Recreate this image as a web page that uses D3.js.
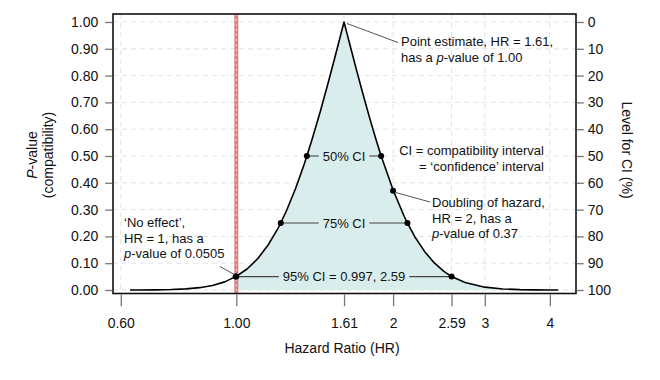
<!DOCTYPE html>
<html><head><meta charset="utf-8">
<script src="https://cdn.jsdelivr.net/npm/d3@7"></script>
<style>
body{margin:0;background:#fff}
text{font-family:"Liberation Sans",Arial,Helvetica,sans-serif;fill:#111}
</style>
</head><body>
<svg id="c" width="660" height="380"></svg>
<script>
// ---- data ----
const hrValues = [0.625,0.65,0.70,0.75,0.80,0.85,0.90,0.95,0.997,1.00,1.05,1.10,1.15,1.20,1.217,1.25,1.30,1.35,1.366,1.40,1.45,1.50,1.55,1.58,1.61,1.63,1.65,1.70,1.75,1.80,1.85,1.897,1.90,2.00,2.10,2.131,2.20,2.30,2.40,2.50,2.59,2.75,3.00,3.25,3.50,3.75,4.00,4.15];
const pValues  = [0.0001,0.0002,0.0006,0.0017,0.0041,0.0087,0.0169,0.0303,0.0500,0.0505,0.0792,0.1177,0.1670,0.2274,0.2500,0.2986,0.3798,0.4695,0.5000,0.5660,0.6673,0.7714,0.8760,0.9384,1.0000,0.9596,0.9197,0.8232,0.7320,0.6468,0.5682,0.5000,0.4964,0.3730,0.2752,0.2500,0.1997,0.1430,0.1011,0.0707,0.0500,0.0279,0.0106,0.0039,0.0014,0.0005,0.0002,0.0001];

const ciLabels = ["50% CI","75% CI","95% CI = 0.997, 2.59"];
const ciLower  = [1.366,1.217,0.997];
const ciUpper  = [1.897,2.131,2.59];
const ciP      = [0.50,0.25,0.05];

const markedHR = [1.00,2.00,1.61];
const markedP  = [0.0505,0.37,1.00];

const xTickValues = [0.60,1.00,1.61,2,2.59,3,4];
const xTickLabels = ["0.60","1.00","1.61","2","2.59","3","4"];
const yTickValues = [0,0.1,0.2,0.3,0.4,0.5,0.6,0.7,0.8,0.9,1.0];
const rightTickValues = [0,10,20,30,40,50,60,70,80,90,100];
const nullHR = 1.00;
const estimateHR = 1.61;

// ---- layout ----
const L = 113, R = 576, T = 14, B = 293.5;
const svg = d3.select("#c");
const x = d3.scaleLog().domain([0.5797, 4.49]).range([L, R]);
const y = d3.scaleLinear().domain([0, 1]).range([290, 22]);
const yR = d3.scaleLinear().domain([0, 100]).range([22, 290]);

const pts = hrValues.map((h, i) => ({h, p: pValues[i]}));

// grid
const grid = svg.append("g").attr("stroke", "#e2e2e2").attr("stroke-width", 1).attr("stroke-dasharray", "5,4");
grid.selectAll("line.h").data(yTickValues).join("line")
  .attr("x1", L).attr("x2", R).attr("y1", d => y(d)).attr("y2", d => y(d));
grid.selectAll("line.v").data(xTickValues).join("line")
  .attr("x1", d => x(d)).attr("x2", d => x(d)).attr("y1", T).attr("y2", B);

// fill under curve from HR ~1
const area = d3.area().x(d => x(d.h)).y0(y(0)).y1(d => y(d.p));
svg.append("path").datum(pts.filter(d => d.h >= 0.997))
  .attr("d", area).attr("fill", "#d9eded");

// null line
svg.append("line").attr("x1", x(nullHR)).attr("x2", x(nullHR)).attr("y1", T).attr("y2", B)
  .attr("stroke", "#d78383").attr("stroke-width", 4);
svg.append("line").attr("x1", x(nullHR)).attr("x2", x(nullHR)).attr("y1", T).attr("y2", B)
  .attr("stroke", "#f3d3d3").attr("stroke-width", 1).attr("stroke-dasharray", "2,3");

// curve
const line = d3.line().x(d => x(d.h)).y(d => y(d.p));
svg.append("path").datum(pts).attr("d", line)
  .attr("fill", "none").attr("stroke", "#000").attr("stroke-width", 1.6).attr("stroke-linejoin", "round");

// frame
svg.append("rect").attr("x", L).attr("y", T).attr("width", R - L).attr("height", B - T)
  .attr("fill", "none").attr("stroke", "#111").attr("stroke-width", 1.6);

// axes
function styleAxis(g) {
  g.select(".domain").remove();
  g.selectAll(".tick line").attr("stroke", "#777").attr("stroke-width", 1.3);
  g.selectAll(".tick text").attr("font-size", 14).attr("fill", "#111")
   .attr("font-family", '"Liberation Sans",Arial,sans-serif');
}
svg.append("g").attr("transform", `translate(${L - 0.8},0)`)
  .call(d3.axisLeft(y).tickValues(yTickValues).tickFormat(d3.format(".2f")).tickSize(7).tickPadding(7))
  .call(styleAxis);
svg.append("g").attr("transform", `translate(${R + 0.8},0)`)
  .call(d3.axisRight(yR).tickValues(rightTickValues).tickFormat(d3.format("d")).tickSize(7).tickPadding(4))
  .call(styleAxis);
svg.append("g").attr("transform", `translate(0,${B + 0.8})`)
  .call(d3.axisBottom(x).tickValues(xTickValues).tickFormat((d, i) => xTickLabels[i]).tickSize(12).tickPadding(12))
  .call(styleAxis);

// axis titles
svg.append("text").attr("x", x(estimateHR) - 2).attr("y", 353).attr("text-anchor", "middle")
  .attr("font-size", 14).text("Hazard Ratio (HR)");
const lt = svg.append("text").attr("transform", "translate(37,155) rotate(-90)")
  .attr("text-anchor", "middle").attr("font-size", 14);
lt.append("tspan").attr("font-style", "italic").text("P");
lt.append("tspan").text("-value");
svg.append("text").attr("transform", "translate(53,155) rotate(-90)")
  .attr("text-anchor", "middle").attr("font-size", 14).text("(compatibility)");
svg.append("text").attr("transform", "translate(622,150) rotate(90)")
  .attr("text-anchor", "middle").attr("font-size", 14).text("Level for CI (%)");

// CI segments with labels
const cx = x(estimateHR);
ciLabels.forEach((lab, i) => {
  const yy = y(ciP[i]);
  const t = svg.append("text").attr("x", cx).attr("y", yy).attr("dy", "0.35em")
    .attr("text-anchor", "middle").attr("font-size", 13).text(lab);
  const w = t.node().getComputedTextLength();
  const g = svg.append("g").attr("stroke", "#444").attr("stroke-width", 1.1);
  g.append("line").attr("x1", x(ciLower[i])).attr("x2", cx - w / 2 - 4).attr("y1", yy).attr("y2", yy);
  g.append("line").attr("x1", cx + w / 2 + 4).attr("x2", x(ciUpper[i])).attr("y1", yy).attr("y2", yy);
  svg.append("circle").attr("cx", x(ciLower[i])).attr("cy", yy).attr("r", 3).attr("fill", "#000");
  svg.append("circle").attr("cx", x(ciUpper[i])).attr("cy", yy).attr("r", 3).attr("fill", "#000");
});
// marked points
svg.append("circle").attr("cx", x(markedHR[0])).attr("cy", y(markedP[0])).attr("r", 3).attr("fill", "#000");
svg.append("circle").attr("cx", x(markedHR[1])).attr("cy", y(markedP[1])).attr("r", 3).attr("fill", "#000");

// annotations
function note(xp, yp, lines) {
  const t = svg.append("text").attr("x", xp).attr("y", yp).attr("font-size", 13);
  lines.forEach((ln, i) => {
    const ts = t.append("tspan").attr("x", xp).attr("dy", i === 0 ? 0 : 15.5);
    ln.forEach(seg => ts.append("tspan").attr("font-style", seg[1] ? "italic" : null).text(seg[0]));
  });
  return t;
}
const lead = svg.append("g").attr("stroke", "#555").attr("stroke-width", 1);
// point estimate
lead.append("line").attr("x1", x(markedHR[2]) + 3).attr("y1", y(markedP[2]) + 1.5).attr("x2", 398).attr("y2", 42.5);
note(401, 46, [[["Point estimate, HR = 1.61,", false]], [["has a ", false], ["p", true], ["-value of 1.00", false]]]);
// CI definition
note(544, 155, [[["CI = compatibility interval", false]], [["= \u2018confidence\u2019 interval", false]]]).attr("text-anchor", "end");
// doubling
lead.append("line").attr("x1", x(markedHR[1]) + 2).attr("y1", y(markedP[1]) + 1.5).attr("x2", 430).attr("y2", 202);
note(432, 207, [[["Doubling of hazard,", false]], [["HR = 2, has a", false]], [["p", true], ["-value of 0.37", false]]]);
// no effect
lead.append("line").attr("x1", 220).attr("y1", 266.5).attr("x2", x(markedHR[0]) - 2).attr("y2", y(markedP[0]) - 2);
note(124, 227, [[["\u2018No effect\u2019,", false]], [["HR = 1, has a", false]], [["p", true], ["-value of 0.0505", false]]]);
</script>
</body></html>
